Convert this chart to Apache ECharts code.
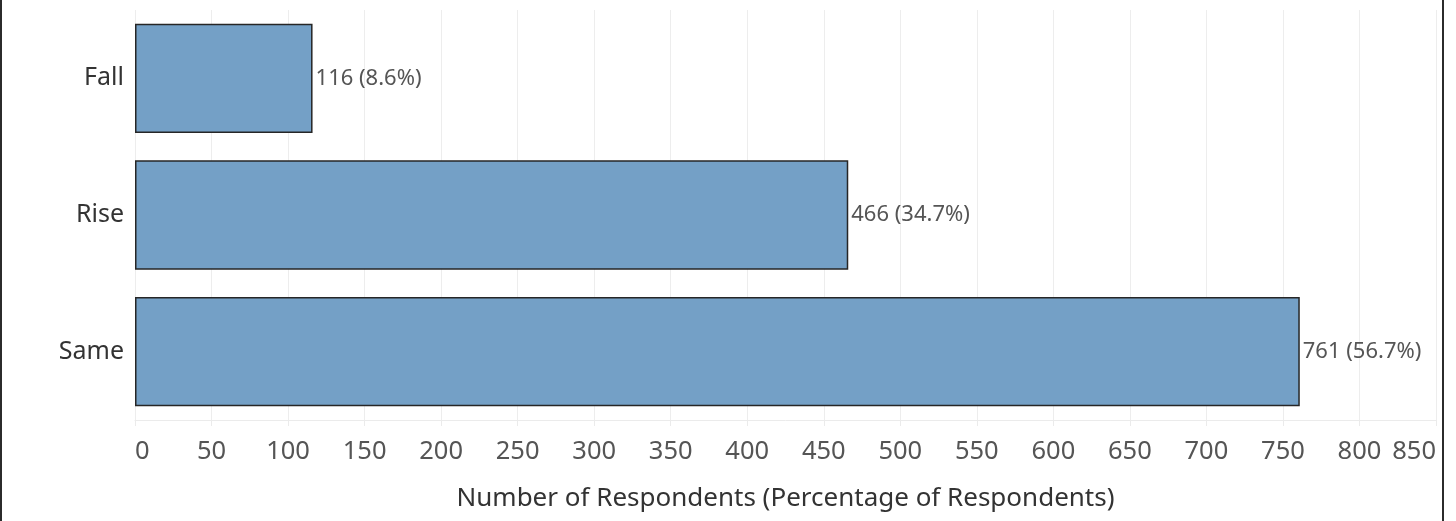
<!DOCTYPE html>
<html>
<head>
<meta charset="utf-8">
<script src="https://cdn.jsdelivr.net/npm/echarts@6/dist/echarts.min.js"></script>
<style>
    html, body { margin: 0; padding: 0; background: #fff; }
    #wrap { position: relative; width: 1456px; height: 521px; }
    #main { width: 1456px; height: 521px; }
    .edge { position: absolute; top: 0; bottom: 0; width: 2px; background: #2b2b2b; }
</style>
</head>
<body>
<div id="wrap">
    <div id="main"></div>
    <div class="edge" style="left:0"></div>
    <div class="edge" style="left:1442px"></div>
</div>
<script>
var categories = ['Fall', 'Rise', 'Same'];
var counts = [116, 466, 761];
var percents = [8.6, 34.7, 56.7];
var axisTitle = 'Number of Respondents (Percentage of Respondents)';

var myChart = echarts.init(document.getElementById('main'));
var font = 'Noto Sans';

option = {
    animation: false,
    grid: {
        left: 135,
        right: 20,
        top: 10,
        bottom: 101
    },
    xAxis: {
        type: 'value',
        min: 0,
        max: 850,
        interval: 50,
        name: axisTitle,
        nameLocation: 'middle',
        nameGap: 66,
        nameTextStyle: { fontFamily: font, fontSize: 26, color: '#333' },
        axisLine: { show: true, lineStyle: { color: '#ebebeb', width: 1 } },
        axisTick: { show: true, length: 6, lineStyle: { color: '#ebebeb' } },
        axisLabel: {
            fontFamily: font, fontSize: 25.5, color: '#555', margin: 19,
            alignMinLabel: 'left', alignMaxLabel: 'right'
        },
        splitLine: { show: true, lineStyle: { color: '#ededed', width: 1 } }
    },
    yAxis: {
        type: 'category',
        inverse: true,
        data: categories,
        axisLine: { show: false },
        axisTick: { show: false },
        axisLabel: { fontFamily: font, fontSize: 25, color: '#333', margin: 11 }
    },
    series: [
        {
            type: 'bar',
            data: counts,
            barCategoryGap: '20%',
            itemStyle: { color: '#74a0c6', borderColor: '#262626', borderWidth: 1.5 },
            label: {
                show: true,
                position: 'right',
                distance: 3,
                fontFamily: font,
                fontSize: 22,
                color: '#555',
                formatter: function (p) {
                    return counts[p.dataIndex] + ' (' + percents[p.dataIndex] + '%)';
                }
            }
        }
    ]
};
myChart.setOption(option);
</script>
</body>
</html>
